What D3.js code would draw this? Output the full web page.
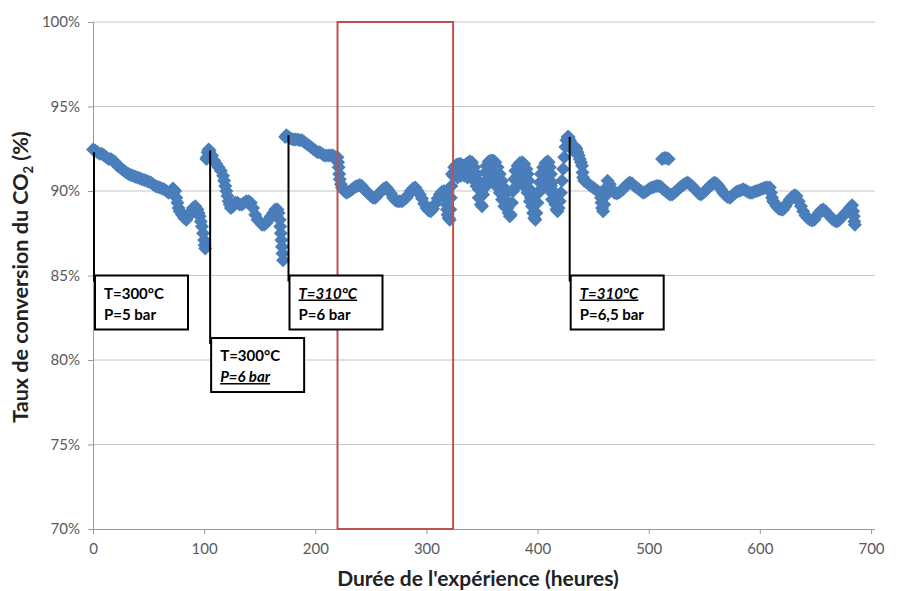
<!DOCTYPE html>
<html><head><meta charset="utf-8">
<script src="https://cdn.jsdelivr.net/npm/d3@7"></script>
<style>
body{margin:0;background:#fff;}
svg{display:block;font-family:Lato,"Open Sans",sans-serif;}
</style>
</head><body>
<svg id="chart" width="903" height="591"></svg>
<script>
// ---- data ----
const hours = [
// T=300°C, P=5 bar
0,2,4,6,8,10,12,14,16,18,20,22,24,26,28,30,32,34,36,38,40,42,44,46,48,50,52,54,56,58,60,62,64,66,68,70,72,74,75,76,77,78,80,82,84,86,88,90,92,94,95,96,97,98,99,100,100.5,101,
// T=300°C, P=6 bar
102,102.5,103,104,105,107,109,111,113,115,117,118,119,120,121,122,123,124,126,128,130,132,134,136,138,140,142,144,146,148,150,152,154,156,158,160,162,164,166,167,168,168.5,169,169.5,170,170.5,171,
// T=310°C, P=6 bar
173,174,176,178,180,182,184,186,188,190,192,194,196,198,200,202,204,206,208,210,212,214,216,218,220,220.5,221,221.5,222,223,224,
226,228,230,232,234,236,238,240,242,244,246,248,250,252,254,256,258,260,262,264,266,268,270,272,274,276,278,280,282,284,286,288,290,292,294,296,298,300,302,304,306,308,310,312,314,316,317,317.5,318,318.5,319,320,321,321.5,322,322.5,
// oscillating period (upper trace)
323,325,327,329,331,333,335,337,339,341,343,345,346,347,348,349,350,
351,352,353,354,356,358,360,362,364,366,368,370,371,372,373,374,375,376,
377,378,379,380,382,384,386,388,390,391,392,393,394,395,396,397,398,
399,400,401,402,403,405,407,409,410,411,412,413,414,415,416,417,418,419,420,
// oscillating period (middle and lower part of the band)
324,326,328,330,332,334,336,338,340,342,344,
355,357,359,361,363,365,367,369,
382,384,386,388,390,392,
404,406,408,410,412,
325,328,331,334,337,340,343,345,347,
354,356,358,360,362,364,366,368,370,
381,383,385,387,389,391,393,
403,405,407,409,411,413,
// T=310°C, P=6,5 bar
421,422,423,424,425,426,427,428,429,430,431,432,433,434,435,436,437,438,439,440,440.5,441,442,444,446,448,450,452,454,456,457,457.5,458,459,460,461,462,463,
465,467,469,471,473,475,477,479,481,483,485,487,489,491,493,495,497,499,501,503,505,507,509,511,513,515,517,519,521,523,525,527,529,531,533,535,537,539,541,543,545,547,549,551,553,555,557,559,561,563,565,567,569,571,573,575,577,579,581,583,585,587,589,591,593,595,597,599,601,603,605,607,609,610,
512,514,516,518,
611,612,613,615,617,619,621,623,625,627,629,631,633,635,637,639,641,643,645,647,649,651,653,655,657,659,661,663,665,667,669,671,673,675,677,679,681,683,684,684.5,685,685.5
];
const conversion = [
92.45,92.4,92.3,92.2,92.2,92.1,92.0,91.9,91.9,91.8,91.7,91.5,91.4,91.3,91.2,91.1,91.0,90.95,90.9,90.85,90.8,90.75,90.7,90.65,90.6,90.55,90.5,90.4,90.3,90.25,90.2,90.15,90.1,90.0,89.9,90.0,90.15,90.0,89.6,89.3,89.0,88.8,88.6,88.4,88.3,88.5,88.8,89.0,89.1,88.9,88.7,88.5,88.2,87.9,87.5,87.1,86.8,86.6,
91.9,92.0,92.3,92.45,92.4,92.1,91.8,91.6,91.4,91.2,90.9,90.6,90.3,90.0,89.7,89.4,89.2,89.0,89.1,89.3,89.3,89.2,89.2,89.3,89.4,89.4,89.3,89.0,88.6,88.3,88.2,88.0,88.0,88.1,88.3,88.5,88.7,88.9,88.9,88.7,88.3,87.9,87.5,87.1,86.7,86.3,85.9,
93.2,93.3,93.2,93.1,93.05,93.05,93.05,93.0,93.0,92.9,92.8,92.7,92.6,92.5,92.4,92.3,92.3,92.2,92.1,92.1,92.1,92.1,92.1,92.0,92.0,91.7,91.4,91.0,90.7,90.4,90.2,
90.0,89.9,89.95,90.05,90.15,90.25,90.3,90.35,90.3,90.1,89.95,89.85,89.7,89.6,89.6,89.75,89.9,90.05,90.15,90.2,90.05,89.85,89.6,89.45,89.4,89.4,89.4,89.5,89.6,89.8,90.0,90.15,90.2,90.0,89.8,89.55,89.25,89.0,88.85,88.8,88.95,89.25,89.55,89.8,89.95,90.0,89.8,89.5,89.2,88.9,88.6,88.4,88.3,88.9,89.6,90.3,
91.0,91.4,91.55,91.6,91.6,91.5,91.55,91.65,91.75,91.7,91.4,91.0,90.6,90.1,89.6,89.2,89.1,
89.8,90.5,91.1,91.5,91.75,91.8,91.8,91.7,91.4,91.0,90.6,90.2,89.8,89.4,89.0,88.7,88.5,88.6,
89.3,90.0,90.7,91.2,91.5,91.65,91.7,91.6,91.3,91.0,90.6,90.1,89.6,89.1,88.7,88.4,88.3,
88.7,89.3,89.9,90.5,91.0,91.4,91.65,91.75,91.7,91.4,91.0,90.5,90.0,89.6,89.2,88.9,88.8,89.0,89.4,
90.9,91.2,91.25,91.25,91.2,91.2,91.2,91.25,91.25,91.1,90.8,
91.1,91.3,91.3,91.1,90.8,90.5,90.2,89.8,
90.9,91.1,91.1,90.9,90.6,90.0,
90.6,90.9,91.1,90.9,90.3,
90.9,90.8,90.9,90.9,90.8,90.8,90.7,90.3,89.6,
90.3,90.7,90.9,90.8,90.5,90.2,89.9,89.5,89.1,
90.3,90.6,90.7,90.5,90.2,89.9,89.4,
90.1,90.4,90.5,90.3,90.0,89.5,
89.9,90.6,91.3,92.0,92.6,93.0,93.2,93.2,93.0,92.8,92.6,92.4,92.5,92.6,92.5,92.3,92.1,91.9,91.7,91.5,91.1,90.8,90.6,90.5,90.4,90.3,90.2,90.1,90.0,89.9,89.6,89.3,89.0,88.8,89.2,89.7,90.2,90.6,
90.4,90.1,89.9,89.85,89.9,90.0,90.1,90.3,90.4,90.5,90.45,90.3,90.2,90.1,90.0,89.9,89.95,90.05,90.15,90.2,90.25,90.3,90.3,90.25,90.1,90.0,89.9,89.8,89.8,89.9,90.0,90.15,90.25,90.35,90.45,90.5,90.4,90.3,90.15,90.0,89.85,89.8,89.9,90.0,90.15,90.3,90.4,90.5,90.45,90.3,90.1,89.9,89.75,89.65,89.6,89.7,89.85,89.95,90.0,90.05,90.1,90.05,89.95,89.9,89.9,89.95,90.0,90.05,90.1,90.15,90.2,90.2,90.2,89.9,
91.9,91.95,91.95,91.9,
89.6,89.4,89.3,89.1,88.95,88.9,88.9,89.1,89.3,89.5,89.65,89.75,89.7,89.4,89.1,88.8,88.55,88.4,88.3,88.25,88.3,88.5,88.7,88.85,88.9,88.8,88.65,88.5,88.35,88.25,88.2,88.25,88.4,88.55,88.7,88.85,89.0,89.15,88.8,88.5,88.2,88.0
];
const xTicks = [0,100,200,300,400,500,600,700];
const yTicks = [70,75,80,85,90,95,100];
const highlightStart = 220, highlightEnd = 324;
const noteHours = [0, 104.5, 175, 428];
const noteTops = [92.3, 92.4, 93.3, 93.2];
const noteT = ["T=300°C","T=300°C","T=310°C","T=310°C"];
const noteP = ["P=5 bar","P=6 bar","P=6 bar","P=6,5 bar"];
const noteChanged = ["", "P", "T", "T"];
const noteBoxTop = [85, 81.3, 85, 85];

// ---- drawing ----
const svg = d3.select("#chart");
const L = 93, R = 871, T = 22, B = 529;
const x = d3.scaleLinear().domain([0,700]).range([L,R]);
const y = d3.scaleLinear().domain([70,100]).range([B,T]);

// gridlines
svg.append("g").selectAll("line").data(yTicks.filter(v=>v>70)).join("line")
  .attr("x1",L).attr("x2",875).attr("y1",d=>y(d)).attr("y2",d=>y(d))
  .attr("stroke","#c4c4c4").attr("stroke-width",1);

// axes
const yAxis = d3.axisLeft(y).tickValues(yTicks).tickFormat(d=>d+"%").tickSize(5).tickPadding(8);
const gy = svg.append("g").attr("transform",`translate(${L},0)`).call(yAxis);
const xAxis = d3.axisBottom(x).tickValues(xTicks).tickFormat(d3.format("d")).tickSize(5).tickPadding(9);
const gx = svg.append("g").attr("transform",`translate(0,${B})`).call(xAxis);
[gx,gy].forEach(g=>{
  g.select(".domain").attr("stroke","#9a9a9a");
  g.selectAll(".tick line").attr("stroke","#9a9a9a");
  g.selectAll("text").attr("fill","#595959").style("font-family","Lato").style("font-size","15px");
});
gx.select(".domain").attr("d",`M${L},0.5H875`);

// data points (diamonds)
const r = 7;
const diamond = `M0,${-r}L${r},0L0,${r}L${-r},0Z`;
svg.append("g").selectAll("path").data(hours.map((h,i)=>[h,conversion[i]])).join("path")
  .attr("d",diamond)
  .attr("transform",d=>`translate(${x(d[0])},${y(d[1])})`)
  .attr("fill","#4a7ebb");

// highlight rectangle
svg.append("rect")
  .attr("x",x(highlightStart)).attr("y",y(100))
  .attr("width",x(highlightEnd)-x(highlightStart)).attr("height",y(70)-y(100))
  .attr("fill","none").attr("stroke","#c0504d").attr("stroke-width",2);

// annotations
const bw = 93, bh = 54;
noteHours.forEach((h,i)=>{
  const lx = x(h)+1;
  const bt = y(noteBoxTop[i]);
  svg.append("line").attr("x1",lx).attr("x2",lx).attr("y1",y(noteTops[i])).attr("y2",bt+6)
    .attr("stroke","#000").attr("stroke-width",2);
  svg.append("rect").attr("x",lx+1).attr("y",bt).attr("width",bw).attr("height",bh)
    .attr("fill","#fff").attr("stroke","#000").attr("stroke-width",2);
  const t1 = svg.append("text").attr("x",lx+10).attr("y",bt+23).text(noteT[i]);
  const t2 = svg.append("text").attr("x",lx+10).attr("y",bt+44).text(noteP[i]);
  [t1,t2].forEach(t=>t.attr("font-weight","bold").attr("font-size","15px").attr("fill","#000"));
  const em = noteChanged[i]==="T" ? t1 : noteChanged[i]==="P" ? t2 : null;
  if (em) em.attr("font-style","italic").attr("text-decoration","underline");
});

// axis titles
svg.append("text").attr("x",478).attr("y",586).attr("text-anchor","middle")
  .attr("font-weight","bold").attr("font-size","21px").attr("fill","#222")
  .text("Durée de l'expérience (heures)");
const yt = svg.append("text").attr("transform","translate(28,277) rotate(-90)")
  .attr("text-anchor","middle").attr("font-weight","bold").attr("font-size","21.5px").attr("fill","#222");
yt.append("tspan").text("Taux de conversion du CO");
yt.append("tspan").attr("font-size","13px").attr("dy",5).text("2");
yt.append("tspan").attr("dy",-5).text(" (%)");
</script>
</body></html>
